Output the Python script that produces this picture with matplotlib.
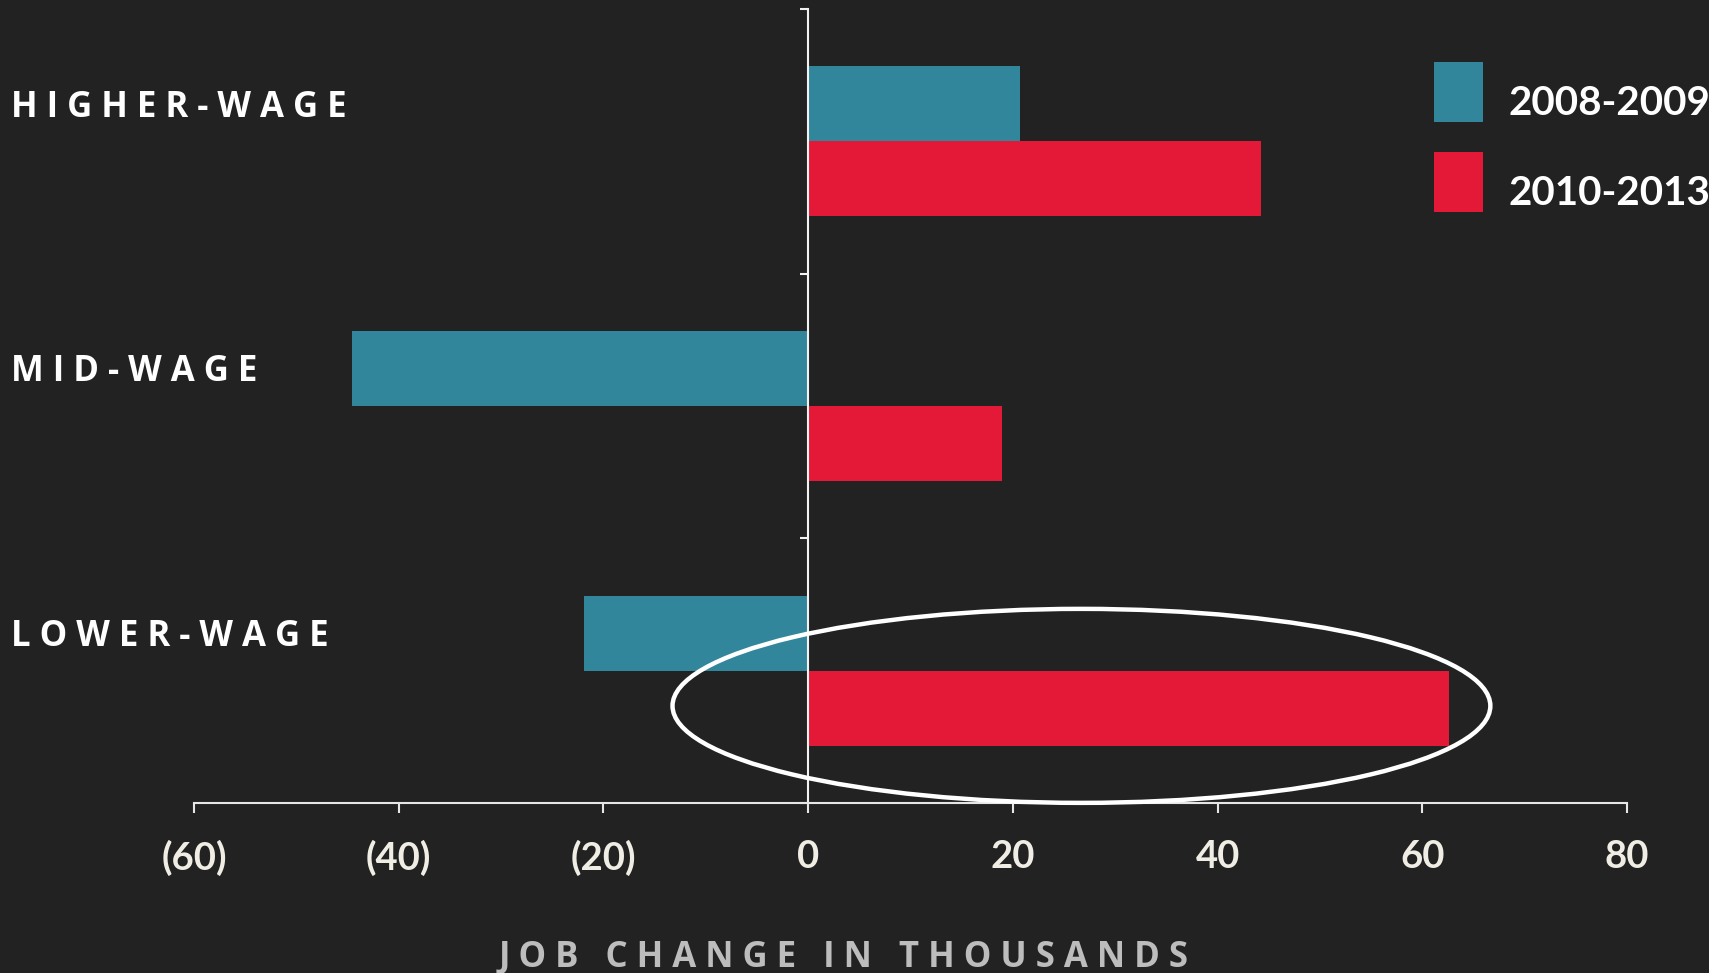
import matplotlib
matplotlib.use("Agg")
import matplotlib.pyplot as plt
from matplotlib.patches import Ellipse, Rectangle
from matplotlib.ticker import FuncFormatter, FixedLocator
from matplotlib.transforms import blended_transform_factory, offset_copy

# ---- data ----
categories = ["HIGHER-WAGE", "MID-WAGE", "LOWER-WAGE"]
series_names = ["2008-2009", "2010-2013"]
values_2008_2009 = [20.7, -44.6, -21.9]
values_2010_2013 = [44.2, 18.9, 62.6]
x_ticks = [-60, -40, -20, 0, 20, 40, 60, 80]
x_label = "JOB CHANGE IN THOUSANDS"

BG = "#222222"
TEAL = "#32869C"
RED = "#E31937"
colors = [TEAL, RED]

W, H, DPI = 1709, 973, 100
fig = plt.figure(figsize=(W / DPI, H / DPI), dpi=DPI, facecolor=BG)
ax = fig.add_axes([194 / W, 1 - 803 / H, (1627 - 194) / W, (803 - 9) / H])
ax.set_facecolor(BG)

n = len(categories)
ypos = [n - 1 - i for i in range(n)]
bh = 0.284
ax.barh([y + bh / 2 for y in ypos], values_2008_2009, height=bh, color=colors[0],
        label=series_names[0], edgecolor="none")
ax.barh([y - bh / 2 for y in ypos], values_2010_2013, height=bh, color=colors[1],
        label=series_names[1], edgecolor="none")

ax.set_xlim(x_ticks[0], x_ticks[-1])
ax.set_ylim(-0.5, n - 0.5)

# spines
for s in ["top", "right"]:
    ax.spines[s].set_visible(False)
ax.spines["left"].set_position(("data", 0))
ax.spines["left"].set_color("#F2F2F2")
ax.spines["left"].set_linewidth(1.5)
ax.spines["bottom"].set_color("#E6E6E6")
ax.spines["bottom"].set_linewidth(1.5)

ax.xaxis.set_major_locator(FixedLocator(x_ticks))
ax.xaxis.set_major_formatter(FuncFormatter(lambda v, p: f"({abs(int(v))})" if v < 0 else f"{int(v)}"))
ax.tick_params(axis="x", direction="out", length=7, width=1.5, color="#E6E6E6",
               labelcolor="#F0EEE4", labelsize=27.5, pad=19.5)
for lab in ax.get_xticklabels():
    lab.set_fontfamily("Lato")
    lab.set_fontweight("bold")

ax.yaxis.set_major_locator(FixedLocator([y + 0.5 for y in range(-1, n)]))
ax.tick_params(axis="y", direction="out", length=6, width=1.5, color="#F2F2F2", labelleft=False)

# category labels at figure left, aligned to the first-series bar
trans = blended_transform_factory(fig.transFigure, ax.transData)
trans_lab = offset_copy(trans, fig=fig, y=-13 * 72 / DPI, units="points")
for y, cat in zip(ypos, categories):
    ax.text(11 / W, y + bh / 2, " ".join(cat), transform=trans_lab, ha="left", va="baseline",
            color="white", fontsize=25, fontweight="bold", family="Open Sans")

# x-axis title
fig.text(844 / W, 1 - 967 / H, "   ".join(" ".join(w) for w in x_label.split(" ")),
         ha="center", va="baseline", color="#BDBDBD", fontsize=25, fontweight="bold",
         family="Open Sans")

# highlight ellipse
ax.add_patch(Ellipse((26.7, -0.133), 79.9, 0.733, fill=False, edgecolor="white",
                     linewidth=3.2, clip_on=False, zorder=5))

# legend (drawn manually to match the square swatches)
sw_x, sw_w, sw_h = 1434, 49, 60
sw_tops = [62, 152]
for top, name, col in zip(sw_tops, series_names, colors):
    fig.add_artist(Rectangle((sw_x / W, 1 - (top + sw_h) / H), sw_w / W, sw_h / H,
                             transform=fig.transFigure, facecolor=col, edgecolor="none"))
    fig.text(1508 / W, 1 - (top + 53) / H, name, ha="left", va="baseline", color="white",
             fontsize=29, fontweight="bold", family="Lato")

fig.savefig("out.png", dpi=DPI, facecolor=BG)
